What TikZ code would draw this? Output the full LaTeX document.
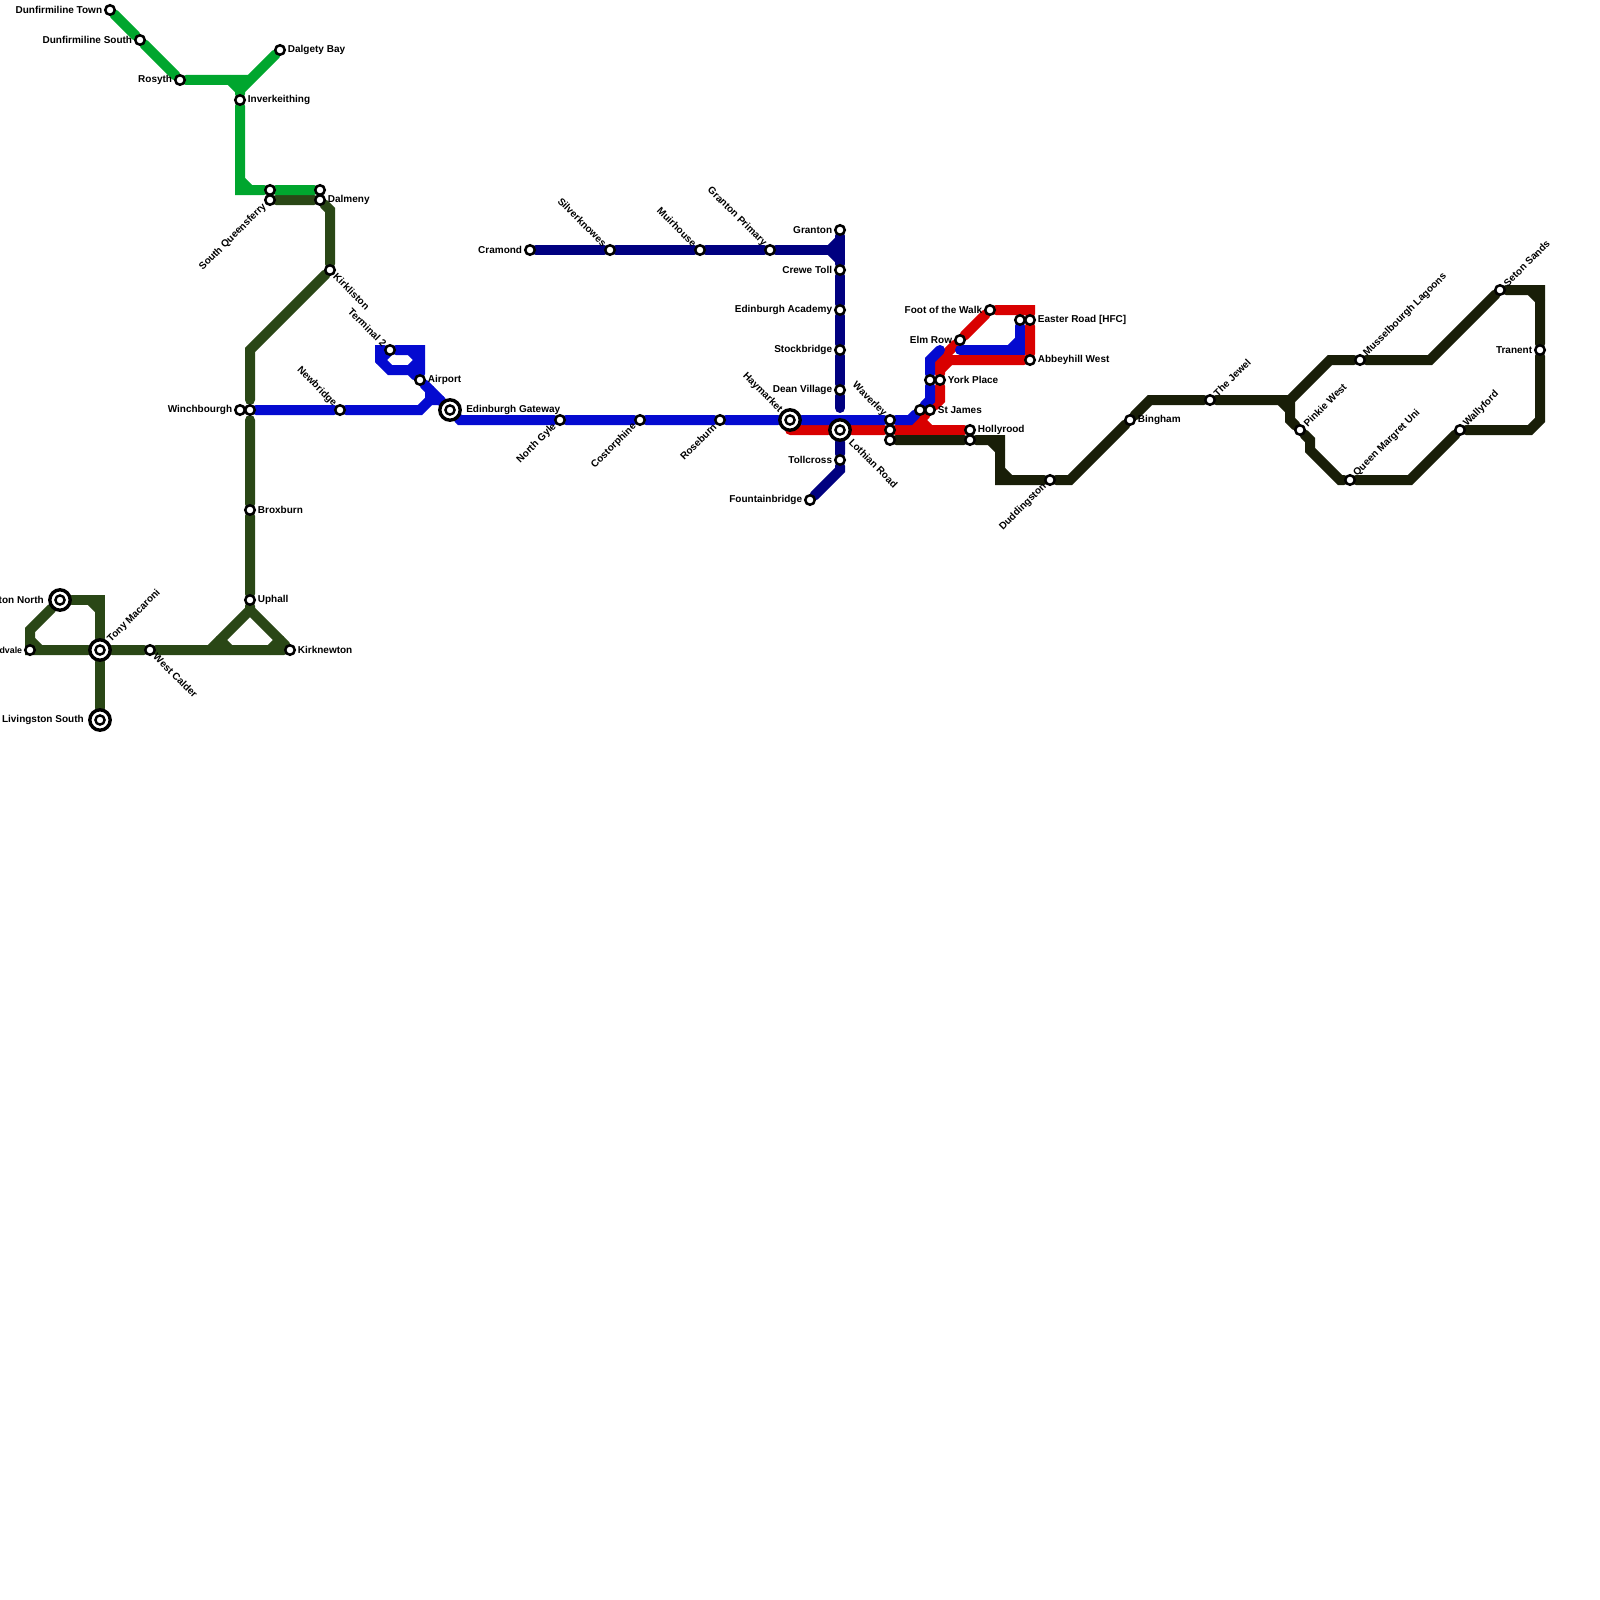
\documentclass[tikz,border=0pt]{standalone}
\usepackage{fontspec}
\setmainfont{Liberation Sans}
\usepackage{tikz}
\usetikzlibrary{positioning, backgrounds}
\definecolor{lineforth}{RGB}{0,166,46}
\definecolor{linewest}{RGB}{42,71,22}
\definecolor{lineair}{RGB}{4,10,208}
\definecolor{linenorth}{RGB}{0,0,128}
\definecolor{linecity}{RGB}{217,0,0}
\definecolor{lineeast}{RGB}{25,30,8}
\tikzstyle{station} = [circle, draw=black, fill=white, line width=1.25pt, minimum size=4.75pt, inner sep=0pt]
\tikzstyle{hub} = [circle, draw=black, fill=white, line width=1.7pt, minimum size=10.2pt, inner sep=0pt, path picture={\draw[black, line width=1.2pt] (path picture bounding box.center) circle (2.3pt);}]
\tikzstyle{txt} = [font=\fontsize{5}{6}\selectfont\bfseries, text=black, inner sep=0.5pt]
\tikzstyle{metro} = [line width=5pt, line cap=round, line join=miter]

\begin{document}
\begin{tikzpicture}[x=0.5pt, y=-0.5pt, node distance=0.25pt]
\useasboundingbox (0,0) rectangle (1600,1600);

% Forth line stations
\node (duntown) [station] at (110,10) {};
\node (dunsouth) [station] at (140,40) {};
\node (rosyth) [station] at (180,80) {};
\node (dalgety) [station] at (280,50) {};
\node (inverk) [station] at (240,100) {};
\node (queensg) [station] at (270,190) {};
\node (dalmenyg) [station] at (320,190) {};

% West line stations
\node (queensw) [station] at (270,200) {};
\node (dalmeny) [station] at (320,200) {};
\node (kirkliston) [station] at (330,270) {};
\node (winch) [station] at (240,410) {};
\node (winchb) [station] at (250,410) {};
\node (broxburn) [station] at (250,510) {};
\node (uphall) [station] at (250,600) {};
\node (kirknewton) [station] at (290,650) {};
\node (westcalder) [station] at (150,650) {};
\node (tony) [hub] at (100,650) {};
\node (livsouth) [hub] at (100,720) {};
\node (livnorth) [hub] at (60,600) {};
\node (dvale) [station] at (30,650) {};

% Airport line stations
\node (newbridge) [station] at (340,410) {};
\node (terminal) [station] at (390,350) {};
\node (airport) [station] at (420,380) {};
\node (gateway) [hub] at (450,410) {};
\node (northgyle) [station] at (560,420) {};
\node (costorphine) [station] at (640,420) {};
\node (roseburn) [station] at (720,420) {};
\node (haymarket) [hub] at (790,420) {};
\node (waverleyb) [station] at (890,420) {};
\node (stjamesb) [station] at (920,410) {};
\node (yorkb) [station] at (930,380) {};
\node (easterb) [station] at (1020,320) {};

% North line stations
\node (cramond) [station] at (530,250) {};
\node (silver) [station] at (610,250) {};
\node (muirhouse) [station] at (700,250) {};
\node (grantonp) [station] at (770,250) {};
\node (granton) [station] at (840,230) {};
\node (crewe) [station] at (840,270) {};
\node (academy) [station] at (840,310) {};
\node (stockbridge) [station] at (840,350) {};
\node (dean) [station] at (840,390) {};
\node (lothian) [hub] at (840,430) {};
\node (tollcross) [station] at (840,460) {};
\node (fountain) [station] at (810,500) {};

% City line stations
\node (waverleyr) [station] at (890,430) {};
\node (stjamesr) [station] at (930,410) {};
\node (yorkr) [station] at (940,380) {};
\node (elmrow) [station] at (960,340) {};
\node (footwalk) [station] at (990,310) {};
\node (easterr) [station] at (1030,320) {};
\node (abbeyhill) [station] at (1030,360) {};
\node (hollyrood) [station] at (970,430) {};

% East line stations
\node (waverleye) [station] at (890,440) {};
\node (hollyroode) [station] at (970,440) {};
\node (duddingston) [station] at (1050,480) {};
\node (bingham) [station] at (1130,420) {};
\node (jewel) [station] at (1210,400) {};
\node (mussel) [station] at (1360,360) {};
\node (seton) [station] at (1500,290) {};
\node (tranent) [station] at (1540,350) {};
\node (wallyford) [station] at (1460,430) {};
\node (queenm) [station] at (1350,480) {};
\node (pinkie) [station] at (1300,430) {};

% Labels left and right
\node (duntownl) [txt, left=of duntown] {Dunfirmiline Town};
\node (dunsouthl) [txt, left=of dunsouth] {Dunfirmiline South};
\node (rosythl) [txt, left=of rosyth] {Rosyth};
\node (dalgetyl) [txt, right=of dalgety] {Dalgety Bay};
\node (inverkl) [txt, right=of inverk] {Inverkeithing};
\node (dalmenyl) [txt, right=of dalmeny] {Dalmeny};
\node (winchl) [txt, left=of winch] {Winchbourgh};
\node (broxburnl) [txt, right=of broxburn] {Broxburn};
\node (uphalll) [txt, right=of uphall] {Uphall};
\node (kirknewtonl) [txt, right=of kirknewton] {Kirknewton};
\node (livsouthl) [txt, left=1.5pt of livsouth] {Livingston South};
\node (livnorthl) [txt, left=1.5pt of livnorth] {ton North};
\node (dvalel) [txt, left=of dvale, font=\fontsize{4.4}{6}\selectfont\bfseries] {dvale};
\node (airportl) [txt, right=of airport] {Airport};
\node (gatewayl) [txt, right=1.5pt of gateway] {Edinburgh Gateway};
\node (cramondl) [txt, left=of cramond] {Cramond};
\node (grantonl) [txt, left=of granton] {Granton};
\node (crewel) [txt, left=of crewe] {Crewe Toll};
\node (academyl) [txt, left=of academy] {Edinburgh Academy};
\node (stockbridgel) [txt, left=of stockbridge] {Stockbridge};
\node (deanl) [txt, left=of dean] {Dean Village};
\node (tollcrossl) [txt, left=of tollcross] {Tollcross};
\node (fountainl) [txt, left=of fountain] {Fountainbridge};
\node (stjamesl) [txt, right=of stjamesr] {St James};
\node (yorkl) [txt, right=of yorkr] {York Place};
\node (elmrowl) [txt, left=of elmrow] {Elm Row};
\node (footwalkl) [txt, left=of footwalk] {Foot of the Walk};
\node (easterl) [txt, right=of easterr] {Easter Road [HFC]};
\node (abbeyhilll) [txt, right=of abbeyhill] {Abbeyhill West};
\node (hollyroodl) [txt, right=of hollyrood] {Hollyrood};
\node (binghaml) [txt, right=of bingham] {Bingham};
\node (tranentl) [txt, left=of tranent] {Tranent};

% Labels on the slant
\node (queensl) [txt, rotate=45, anchor=east] at (queensw.225) {South Queensferry};
\node (kirklistonl) [txt, rotate=-45, anchor=west] at (kirkliston.-45) {Kirkliston};
\node (westcalderl) [txt, rotate=-45, anchor=west] at (westcalder.-45) {West Calder};
\node (tonyl) [txt, rotate=45, anchor=west] at (tony.45) {Tony Macaroni};
\node (newbridgel) [txt, rotate=-45, anchor=east] at (newbridge.135) {Newbridge};
\node (terminall) [txt, rotate=-45, anchor=east] at (terminal.135) {Terminal 2};
\node (northgylel) [txt, rotate=45, anchor=east] at (northgyle.225) {North Gyle};
\node (costorphinel) [txt, rotate=45, anchor=east] at (costorphine.225) {Costorphine};
\node (roseburnl) [txt, rotate=45, anchor=east] at (roseburn.225) {Roseburn};
\node (haymarketl) [txt, rotate=-45, anchor=east] at (haymarket.135) {Haymarket};
\node (silverl) [txt, rotate=-45, anchor=east] at (silver.135) {Silverknowes};
\node (muirhousel) [txt, rotate=-45, anchor=east] at (muirhouse.135) {Muirhouse};
\node (grantonpl) [txt, rotate=-45, anchor=east] at (grantonp.135) {Granton Primary};
\node (lothianl) [txt, rotate=-45, anchor=west, xshift=1pt] at (lothian.-45) {Lothian Road};
\node (waverleyl) [txt, rotate=-45, anchor=east] at (waverleyb.135) {Waverley};
\node (duddingstonl) [txt, rotate=45, anchor=east] at (duddingston.225) {Duddingston};
\node (jewell) [txt, rotate=45, anchor=west] at (jewel.45) {The Jewel};
\node (pinkiel) [txt, rotate=45, anchor=west] at (pinkie.45) {Pinkie West};
\node (mussell) [txt, rotate=45, anchor=west] at (mussel.45) {Musselbourgh Lagoons};
\node (queenml) [txt, rotate=45, anchor=west] at (queenm.45) {Queen Margret Uni};
\node (wallyfordl) [txt, rotate=45, anchor=west] at (wallyford.45) {Wallyford};
\node (setonl) [txt, rotate=45, anchor=west] at (seton.45) {Seton Sands};

% Bends
\coordinate (fjoin) at (240,90);
\coordinate (fedge) at (248,80);
\coordinate (fbend) at (240,190);
\coordinate (wbend) at (330,210);
\coordinate (wturn) at (250,350);
\coordinate (wstop) at (250,400);
\coordinate (wstart) at (250,420);
\coordinate (wsplit) at (250,610);
\coordinate (wfork) at (210,650);
\coordinate (ncorner) at (100,600);
\coordinate (nslant) at (30,630);
\coordinate (ncurb) at (30,650);
\coordinate (aleft) at (380,350);
\coordinate (alow) at (380,360);
\coordinate (alower) at (390,370);
\coordinate (alast) at (410,370);
\coordinate (aright) at (420,350);
\coordinate (agate) at (430,400);
\coordinate (agateb) at (440,400);
\coordinate (afoot) at (420,410);
\coordinate (atail) at (460,420);
\coordinate (acentre) at (840,420);
\coordinate (akink) at (910,420);
\coordinate (aup) at (930,400);
\coordinate (atop) at (930,360);
\coordinate (aend) at (940,350);
\coordinate (bstart) at (960,350);
\coordinate (bcorner) at (1020,350);
\coordinate (njoin) at (830,250);
\coordinate (nstop) at (840,408);
\coordinate (ntail) at (840,470);
\coordinate (rstart) at (790,430);
\coordinate (rkink) at (910,430);
\coordinate (rdown) at (940,400);
\coordinate (rturn) at (940,360);
\coordinate (rtop) at (1030,310);
\coordinate (ebend) at (1000,440);
\coordinate (elow) at (1000,480);
\coordinate (eflat) at (1070,480);
\coordinate (erise) at (1150,400);
\coordinate (ejoin) at (1290,400);
\coordinate (enorth) at (1330,360);
\coordinate (eramp) at (1430,360);
\coordinate (etop) at (1540,290);
\coordinate (ebase) at (1540,420);
\coordinate (ebaseb) at (1530,430);
\coordinate (eslope) at (1410,480);
\coordinate (esouth) at (1340,480);
\coordinate (estep) at (1310,450);
\coordinate (estepb) at (1310,440);
\coordinate (eback) at (1290,420);

\begin{scope}[on background layer]
% West line
\draw [metro, linewest] (queensw) -- (dalmeny) -- (wbend) -- (kirkliston) -- (wturn) -- (wstop);
\draw [metro, linewest] (wstart) -- (broxburn) -- (uphall) -- (wsplit) -- (wfork);
\draw [metro, linewest] (wsplit) -- (kirknewton);
\draw [metro, linewest] (livnorth) -- (ncorner) -- (tony) -- (livsouth);
\draw [metro, linewest] (livnorth) -- (nslant) -- (ncurb) -- (tony) -- (westcalder) -- (kirknewton);
\draw [metro, linewest] (ncorner) ++(-10,0) -- ++(10,10) (ncurb) ++(0,-10) -- ++(10,10) (wfork) ++(10,-10) -- ++(10,10) (kirknewton) ++(-10,-10) -- ++(-10,10);
% Forth line
\draw [metro, lineforth] (duntown) -- (dunsouth) -- (rosyth) -- (fedge);
\draw [metro, lineforth] (dalgety) -- (fjoin) -- (inverk) -- (fbend) -- (queensg) -- (dalmenyg);
\draw [metro, lineforth] (fjoin) ++(-10,-10) -- ++(10,10) (fbend) ++(0,-10) -- ++(10,10);
% City line
\draw [metro, linecity] (rstart) -- (lothian) -- (waverleyr) -- (rkink) -- (stjamesr) -- (rdown) -- (yorkr) -- (rturn) -- (elmrow) -- (footwalk) -- (rtop) -- (easterr) -- (abbeyhill) -- (rturn);
\draw [metro, linecity] (waverleyr) -- (hollyrood);
\draw [metro, linecity] (rdown) ++(-20,20) -- ++(10,10) (rturn) ++(0,10) -- ++(10,-10);
% Airport line
\draw [metro, lineair] (winchb) -- (newbridge) -- (afoot) -- (agate) -- (agateb);
\draw [metro, lineair] (agate) -- ++(0,-10);
\draw [metro, lineair] (terminal) -- (aleft) -- (alow) -- (alower) -- (alast) -- (airport) -- (aright) -- (terminal);
\draw [metro, lineair] (airport) -- (gateway);
\draw [metro, lineair] (aleft) ++(0,10) -- ++(10,-10) (aright) ++(-10,0) -- ++(10,10) (aright) ++(0,10) -- ++(-10,10);
\draw [metro, lineair] (gateway) -- (atail) -- (northgyle) -- (costorphine) -- (roseburn) -- (haymarket) -- (acentre) -- (waverleyb) -- (akink) -- (stjamesb) -- (aup) -- (yorkb) -- (atop) -- (aend);
\draw [metro, lineair] (bstart) -- (bcorner) -- (easterb);
\draw [metro, lineair] (bcorner) ++(-10,0) -- ++(10,-10);
% North line
\draw [metro, linenorth] (cramond) -- (silver) -- (muirhouse) -- (grantonp) -- (njoin);
\draw [metro, linenorth] (granton) -- (crewe) -- (academy) -- (stockbridge) -- (dean) -- (nstop);
\draw [metro, linenorth] (lothian) -- (tollcross) -- (ntail) -- (fountain);
\draw [metro, linenorth] (njoin) ++(10,-10) -- ++(-10,10) -- ++(10,10);
% East line
\draw [metro, lineeast] (waverleye) -- (hollyroode) -- (ebend) -- (elow) -- (duddingston) -- (eflat) -- (bingham) -- (erise) -- (jewel) -- (ejoin) -- (enorth) -- (mussel) -- (eramp) -- (seton) -- (etop) -- (tranent) -- (ebase) -- (ebaseb) -- (wallyford) -- (eslope) -- (queenm) -- (esouth) -- (estep) -- (estepb) -- (pinkie) -- (eback) -- (ejoin);
\draw [metro, lineeast] (ebend) ++(-10,0) -- ++(10,10) (elow) ++(0,-10) -- ++(10,10) (etop) ++(-10,0) -- ++(10,10) (ejoin) ++(-10,0) -- ++(10,10);
\end{scope}

\end{tikzpicture}
\end{document}
